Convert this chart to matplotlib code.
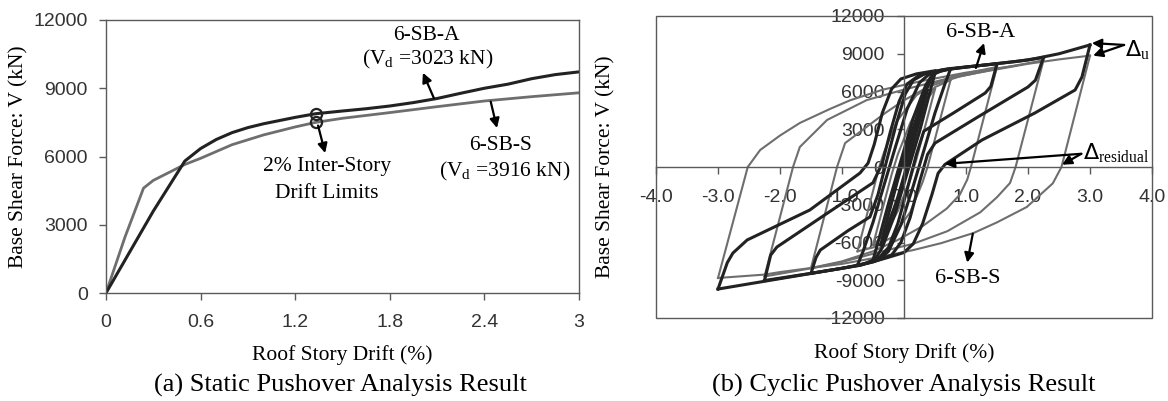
import matplotlib
matplotlib.use("Agg")
import matplotlib.pyplot as plt
from matplotlib.patches import Rectangle

plt.rcParams["font.family"] = ["Liberation Serif", "DejaVu Serif"]

# ---------------- (a) static pushover ----------------
drift_a = [0, 0.1, 0.2, 0.3, 0.4, 0.5, 0.6, 0.7, 0.8, 0.9, 1.0, 1.1, 1.2, 1.33,
           1.5, 1.65, 1.8, 1.95, 2.1, 2.25, 2.4, 2.55, 2.7, 2.85, 3.0]
shear_a = [0, 1200, 2400, 3600, 4700, 5800, 6350, 6750, 7050, 7270, 7440, 7580,
           7720, 7880, 8000, 8100, 8220, 8370, 8550, 8780, 9000, 9180, 9420, 9600, 9720]
drift_s = [0, 0.12, 0.238, 0.3, 0.4, 0.5, 0.6, 0.8, 1.0, 1.2, 1.33, 1.5,
           1.8, 2.1, 2.4, 2.7, 3.0]
shear_s = [0, 2450, 4610, 4950, 5300, 5650, 5920, 6520, 6950, 7300, 7500, 7680,
           7930, 8190, 8440, 8630, 8800]
limit_drift = [1.33, 1.33]
limit_shear = [7880, 7500]

x_ticks_a = [0, 0.6, 1.2, 1.8, 2.4, 3.0]
x_labels_a = ["0", "0.6", "1.2", "1.8", "2.4", "3"]
y_ticks_a = [0, 3000, 6000, 9000, 12000]

# ---------------- (b) cyclic pushover ----------------
# 6-SB-S half cycles (drift %, shear kN)
sbs_cycles = [
    ([0, 0.12, 0.25, 0.375], [0, 2300, 4600, 5500]),
    ([0.375, 0.1, -0.1, -0.3, -0.375], [5500, 300, -2600, -4800, -5500]),
    ([-0.375, -0.1, 0.1, 0.3, 0.5], [-5500, -300, 2600, 4900, 6200]),
    ([0.5, 0.2, 0.1, -0.1, -0.3, -0.5], [6200, 600, -1000, -3500, -5300, -6200]),
    ([-0.5, -0.2, -0.1, 0.1, 0.3, 0.5, 0.75], [-6200, -600, 1000, 3500, 5300, 6350, 6900]),
    ([0.75, 0.38, 0.3, 0.1, -0.2, -0.5, -0.75],
     [6900, 0, -1200, -3600, -5600, -6400, -6700]),
    ([-0.75, -0.4, -0.32, -0.12, 0.2, 0.5, 0.8, 1.1, 1.5],
     [-6700, 0, 1200, 3600, 5700, 6700, 7200, 7550, 7950]),
    ([1.5, 1.08, 1.02, 0.9, 0.69, 0.3, -0.1, -0.5, -1.0, -1.5],
     [7950, 0, -1000, -2200, -3300, -4700, -5800, -6700, -7500, -8030]),
    ([-1.5, -1.08, -0.95, -0.6, -0.3, 0.0, 0.4, 0.9, 1.5, 2.0, 2.25],
     [-8030, 0, 1900, 3200, 4300, 5300, 6400, 7200, 7800, 8250, 8480]),
    ([2.25, 1.8, 1.71, 1.5, 1.23, 0.7, 0.15, -0.39, -1.0, -1.5, -2.25],
     [8480, 0, -1270, -2400, -3600, -5100, -6100, -6750, -7550, -8050, -8700]),
    ([-2.25, -1.79, -1.68, -1.24, -0.6, 0.0, 0.6, 1.2, 2.0, 2.5, 3.0],
     [-8700, 0, 1590, 3740, 5320, 6150, 6900, 7500, 8200, 8550, 8850]),
    ([3.0, 2.54, 2.4, 1.98, 1.5, 1.12, 0.6, 0.15, -0.39, -1.0, -2.0, -2.25, -3.0],
     [8850, 0, -1300, -3180, -4400, -5250, -6050, -6600, -7150, -7700, -8350, -8550, -8820]),
    ([-3.0, -2.52, -2.32, -2.0, -1.68, -1.2, -0.87, -0.34, 0.3, 1.0, 1.8],
     [-8820, 0, 1350, 2500, 3500, 4600, 5300, 6150, 6850, 7500, 8050]),
]

# 6-SB-A half cycles (drift %, shear kN)
sba_cycles = [
    ([0, 0.15, 0.3, 0.375], [0, 2600, 5200, 6100]),
    ([0.375, 0.3, 0.1, -0.1, -0.3, -0.375], [6100, 4600, 1000, -2400, -5300, -6200]),
    ([-0.375, -0.3, -0.1, 0.1, 0.3, 0.45, 0.5], [-6200, -4700, -1000, 2400, 5400, 7200, 7450]),
    ([0.5, 0.42, 0.25, 0.05, -0.15, -0.35, -0.45, -0.5],
     [7450, 6000, 2800, -500, -3800, -6400, -7200, -7400]),
    ([-0.5, -0.42, -0.25, -0.05, 0.15, 0.35, 0.45, 0.6, 0.75],
     [-7400, -6000, -2900, 500, 3900, 6500, 7300, 7650, 7780]),
    ([0.75, 0.66, 0.5, 0.35, 0.15, -0.05, -0.25, -0.4, -0.6, -0.75],
     [7780, 6600, 4300, 1800, -1500, -4600, -6700, -7350, -7650, -7800]),
    ([-0.75, -0.66, -0.5, -0.35, -0.15, 0.05, 0.25, 0.4, 0.7, 1.0, 1.5],
     [-7800, -6700, -4400, -1900, 1400, 4600, 6700, 7350, 7750, 7950, 8200]),
    ([1.5, 1.4, 1.31, 0.8, 0.32, 0.2, 0.05, -0.1, -0.25, -0.4, -0.7, -1.0, -1.5],
     [8200, 6400, 5880, 4300, 2850, 1000, -1800, -4500, -6400, -7200, -7800, -8050, -8450]),
    ([-1.5, -1.42, -1.35, -0.9, -0.55, -0.42, -0.28, -0.12, 0.02, 0.15, 0.35, 0.7, 1.2,
      1.8, 2.25],
     [-8450, -7200, -6600, -5050, -3970, -2200, 500, 3500, 5800, 6900, 7450, 7800, 8050,
      8380, 8700]),
    ([2.25, 2.12, 2.0, 1.2, 0.5, 0.38, 0.25, 0.1, -0.05, -0.2, -0.5, -1.0, -1.5, -2.25],
     [8700, 6900, 6360, 4000, 1900, 1000, -1200, -4000, -6000, -7000, -7550, -8050,
      -8450, -9020]),
    ([-2.25, -2.15, -2.05, -1.2, -0.5, -0.35, -0.22, -0.08, 0.05, 0.25, 0.6, 1.2, 2.0,
      2.5, 3.0],
     [-9020, -7000, -6360, -3550, -1250, 300, 2800, 5200, 6600, 7300, 7700, 8050, 8500,
      9000, 9700]),
    ([3.0, 2.87, 2.76, 2.11, 1.26, 0.66, 0.55, 0.45, 0.3, 0.15, 0.0, -0.3, -0.7, -1.5,
      -2.2, -3.0],
     [9700, 7150, 6120, 4290, 2150, 200, -500, -2200, -4500, -6100, -6800, -7250,
      -7800, -8460, -9040, -9700]),
    ([-3.0, -2.85, -2.76, -2.53, -1.52, -0.71, -0.58, -0.48, -0.35, -0.2, -0.05, 0.2, 0.5],
     [-9700, -7600, -6840, -5800, -3420, -480, 300, 1800, 4300, 6200, 7000, 7400, 7650]),
]

x_ticks_b = [-4.0, -3.0, -2.0, -1.0, 0.0, 1.0, 2.0, 3.0, 4.0]
y_ticks_b = [-12000, -9000, -6000, -3000, 0, 3000, 6000, 9000, 12000]

BLACK = "#222222"
GRAY = "#6e6e6e"
SPINE = "#5a5a5a"
TICK_TXT = "#333333"
TICK_FAMILY = "Liberation Sans"
TICK_SIZE = 14
LABEL_SIZE = 15.5
NOTE_SIZE = 15.5
CAPTION_SIZE = 19

fig = plt.figure(figsize=(11.68, 4.01), dpi=100)

# ---------- left panel ----------
ax1 = fig.add_axes([106 / 1168, 1 - 293 / 401, 473 / 1168, 273 / 401])
ax1.plot(drift_s, shear_s, color=GRAY, lw=2.0, solid_capstyle="round")
ax1.plot(drift_a, shear_a, color=BLACK, lw=2.2, solid_capstyle="round")
ax1.plot(limit_drift, limit_shear, "o", ms=8, mfc="none", mec=BLACK, mew=1.6,
         clip_on=False)
ax1.set_xlim(0, 3)
ax1.set_ylim(0, 12000)
ax1.set_xticks(x_ticks_a)
ax1.set_xticklabels(x_labels_a)
ax1.set_yticks(y_ticks_a)
for lab in ax1.get_xticklabels() + ax1.get_yticklabels():
    lab.set_fontfamily(TICK_FAMILY)
    lab.set_fontsize(TICK_SIZE)
    lab.set_color(TICK_TXT)
ax1.tick_params(direction="out", length=5, width=1, color=SPINE)
ax1.tick_params(axis="y", pad=8)
ax1.tick_params(axis="x", pad=10)
for sp in ax1.spines.values():
    sp.set_color(SPINE)
    sp.set_linewidth(1.0)
ax1.set_xlabel("Roof Story Drift (%)", fontsize=LABEL_SIZE)
ax1.set_ylabel("Base Shear Force: V (kN)", fontsize=LABEL_SIZE)
ax1.xaxis.set_label_coords(0.5, -0.19)
ax1.yaxis.set_label_coords(-0.163, 0.5)

arrow_kw = dict(arrowstyle="-|>", color="black", lw=1.6, mutation_scale=14,
                shrinkA=0, shrinkB=0)
ax1.annotate("", xy=(2.01, 9680), xytext=(2.08, 8560), arrowprops=arrow_kw)
ax1.annotate("", xy=(2.48, 7250), xytext=(2.44, 8410), arrowprops=arrow_kw)
ax1.annotate("", xy=(1.39, 6150), xytext=(1.345, 7360), arrowprops=arrow_kw)
ax1.text(2.03, 11330, "6-SB-A", ha="center", va="center", fontsize=NOTE_SIZE)
ax1.text(2.04, 10250, r"(V$_\mathregular{d}$ =3023 kN)", ha="center", va="center",
         fontsize=NOTE_SIZE)
ax1.text(2.5, 6500, "6-SB-S", ha="center", va="center", fontsize=NOTE_SIZE)
ax1.text(2.53, 5330, r"(V$_\mathregular{d}$ =3916 kN)", ha="center", va="center",
         fontsize=NOTE_SIZE)
ax1.text(1.4, 5550, "2% Inter-Story", ha="center", va="center", fontsize=NOTE_SIZE)
ax1.text(1.4, 4380, "Drift Limits", ha="center", va="center", fontsize=NOTE_SIZE)

# ---------- right panel ----------
ax2 = fig.add_axes([656 / 1168, 1 - 318 / 401, 496 / 1168, 302 / 401])
for xs, ys in sbs_cycles:
    ax2.plot(xs, ys, color=GRAY, lw=1.5, solid_joinstyle="round")
for xs, ys in sba_cycles:
    ax2.plot(xs, ys, color=BLACK, lw=2.2, solid_joinstyle="round")
ax2.set_xlim(-4, 4)
ax2.set_ylim(-12000, 12000)
ax2.spines["left"].set_position("zero")
ax2.spines["bottom"].set_position("zero")
ax2.spines["top"].set_visible(False)
ax2.spines["right"].set_visible(False)
for sp in ("left", "bottom"):
    ax2.spines[sp].set_color(SPINE)
    ax2.spines[sp].set_linewidth(1.0)
ax2.add_patch(Rectangle((0, 0), 1, 1, transform=ax2.transAxes, fill=False,
                        edgecolor=SPINE, lw=1.0, clip_on=False, zorder=5))
ax2.set_xticks(x_ticks_b)
ax2.set_xticklabels([f"{v:.1f}" for v in x_ticks_b])
ax2.set_yticks(y_ticks_b)
ax2.set_yticklabels([str(v) for v in y_ticks_b])
for lab in ax2.get_xticklabels() + ax2.get_yticklabels():
    lab.set_fontfamily(TICK_FAMILY)
    lab.set_fontsize(TICK_SIZE)
    lab.set_color(TICK_TXT)
ax2.tick_params(direction="out", length=5, width=1, color=SPINE)
ax2.tick_params(axis="y", pad=9)
ax2.tick_params(axis="x", pad=11)
ax2.set_xlabel("Roof Story Drift (%)", fontsize=LABEL_SIZE)
ax2.set_ylabel("Base Shear Force: V (kN)", fontsize=LABEL_SIZE)
ax2.xaxis.set_label_coords(0.5, -0.083)
ax2.yaxis.set_label_coords(-0.081, 0.5)

ax2.annotate("", xy=(1.29, 9850), xytext=(1.16, 7870), arrowprops=arrow_kw)
ax2.text(1.24, 10650, "6-SB-A", ha="center", va="center", fontsize=16)
ax2.annotate("", xy=(1.02, -7600), xytext=(1.11, -5300), arrowprops=arrow_kw)
ax2.text(1.03, -8830, "6-SB-S", ha="center", va="center", fontsize=16)
ax2.annotate("", xy=(3.03, 9850), xytext=(3.55, 9700), arrowprops=arrow_kw)
ax2.annotate("", xy=(3.05, 8850), xytext=(3.55, 9700), arrowprops=arrow_kw)
ax2.text(3.57, 9250, r"$\Delta_\mathregular{u}$", ha="left", va="center", fontsize=16)
ax2.annotate("", xy=(0.66, 250), xytext=(2.86, 1050), arrowprops=arrow_kw)
ax2.annotate("", xy=(2.55, 180), xytext=(2.86, 1050), arrowprops=arrow_kw)
ax2.text(2.88, 1100, r"$\Delta_\mathregular{residual}$", ha="left", va="center",
         fontsize=16)

fig.text(340 / 1168, 1 - 385 / 401, "(a) Static Pushover Analysis Result",
         ha="center", va="center", fontsize=CAPTION_SIZE)
fig.text(904 / 1168, 1 - 385 / 401, "(b) Cyclic Pushover Analysis Result",
         ha="center", va="center", fontsize=CAPTION_SIZE)

fig.savefig("out.png", dpi=100)
